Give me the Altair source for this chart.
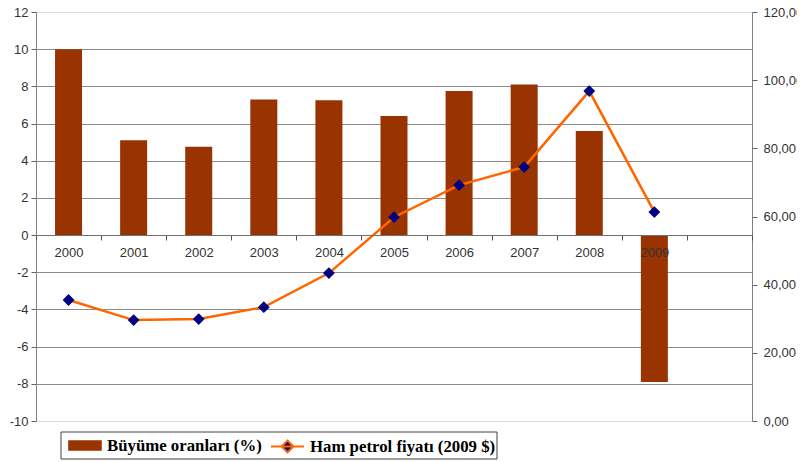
import altair as alt
import pandas as pd

years = ['2000', '2001', '2002', '2003', '2004', '2005', '2006', '2007', '2008', '2009']
growth = [10.0, 5.1, 4.75, 7.3, 7.25, 6.4, 7.75, 8.1, 5.6, -7.9]
oil = [35.5, 29.6, 29.9, 33.4, 43.4, 59.8, 69.2, 74.5, 96.8, 61.3]
x_domain = years + [' ']
left_ticks = list(range(-10, 13, 2))
right_ticks = list(range(0, 121, 20))
bar_label = 'Büyüme oranları (%)'
line_label = 'Ham petrol fiyatı (2009 $)'

df = pd.DataFrame({'year': years, 'growth': growth, 'oil': oil,
                   'b': [bar_label] * len(years), 'l': [line_label] * len(years)})

W, H = 716, 409
xscale = alt.Scale(domain=x_domain, paddingInner=0, paddingOuter=0)

grid_color = {"condition": {"test": "datum.value == 12 || datum.value == -10", "value": "#dcdcdc"},
              "value": "#8a8a8a"}

bars = alt.Chart(df).mark_bar(color='#993300', size=27).encode(
    x=alt.X('year:N', scale=xscale, title=None,
            axis=alt.Axis(offset=-186, tickBand='extent', labelAngle=0, domainColor='#707070',
                          tickColor='#505050', tickSize=5, labelPadding=6, labelFontSize=13,
                          labelFont='Liberation Sans', labelColor='#333333', grid=False, zindex=2)),
    y=alt.Y('growth:Q', scale=alt.Scale(domain=[-10, 12], nice=False, zero=False), title=None,
            axis=alt.Axis(values=left_ticks, gridColor=grid_color, gridWidth=1, domainColor='#808080',
                          tickColor='#606060', tickSize=5, labelFontSize=13, labelFont='Liberation Sans',
                          labelColor='#333333', labelPadding=3, labelExpr="'' + datum.value")),
    fill=alt.Fill('b:N', scale=alt.Scale(domain=[bar_label], range=['#993300']),
                  legend=alt.Legend(title=None, orient='none', legendX=38.5, legendY=423, padding=0,
                                    symbolType='M-1.6,-0.5H1.6V0.5H-1.6Z', symbolSize=441,
                                    symbolStrokeWidth=0, labelFont='Liberation Serif', labelFontSize=16.8,
                                    labelFontWeight='bold', labelColor='#000000', labelOffset=11.5,
                                    labelLimit=400)),
)

right_y = alt.Y('oil:Q', scale=alt.Scale(domain=[0, 120], nice=False), title=None,
                axis=alt.Axis(orient='right', values=right_ticks, grid=False, domainColor='#808080',
                              tickColor='#606060', tickSize=5, labelFontSize=13, labelFont='Liberation Sans',
                              labelColor='#333333', labelPadding=6,
                              labelExpr="replace(format(datum.value, '.2f'), '.', ',')"))

line = alt.Chart(df).mark_line(strokeWidth=2.5).encode(
    x=alt.X('year:N', scale=xscale),
    y=right_y,
    stroke=alt.Stroke('l:N', scale=alt.Scale(domain=[line_label], range=['#FF6600']),
                      legend=alt.Legend(title=None, orient='none', legendX=234, legendY=417, padding=0,
                                        symbolType='M-1,0H1M0,-0.36L0.36,0L0,0.36L-0.36,0Z',
                                        symbolSize=1089, symbolStrokeWidth=2, symbolFillColor='#000080',
                                        labelFont='Liberation Serif', labelFontSize=16.8,
                                        labelFontWeight='bold', labelColor='#000000', labelOffset=5,
                                        labelLimit=400)),
)

points = alt.Chart(df).mark_point(shape='diamond', filled=True, color='#000080', size=140, opacity=1).encode(
    x=alt.X('year:N', scale=xscale),
    y=alt.Y('oil:Q'),
)

oil_layer = alt.layer(line, points)

box = alt.Chart(pd.DataFrame({'a': [0]})).mark_rect(fill=None, stroke='#404040', strokeWidth=1).encode(
    x=alt.value(25), x2=alt.value(461), y=alt.value(420), y2=alt.value(447)
)

chart = alt.layer(bars, oil_layer, box).resolve_scale(y='independent').properties(
    width=W, height=H,
    autosize=alt.AutoSizeParams(type='none'),
    padding={'left': 28, 'top': 4, 'right': 45, 'bottom': 41},
    background='white',
).configure_view(stroke=None)

chart.save("out.html", embed_options={"renderer": "svg", "actions": False})
